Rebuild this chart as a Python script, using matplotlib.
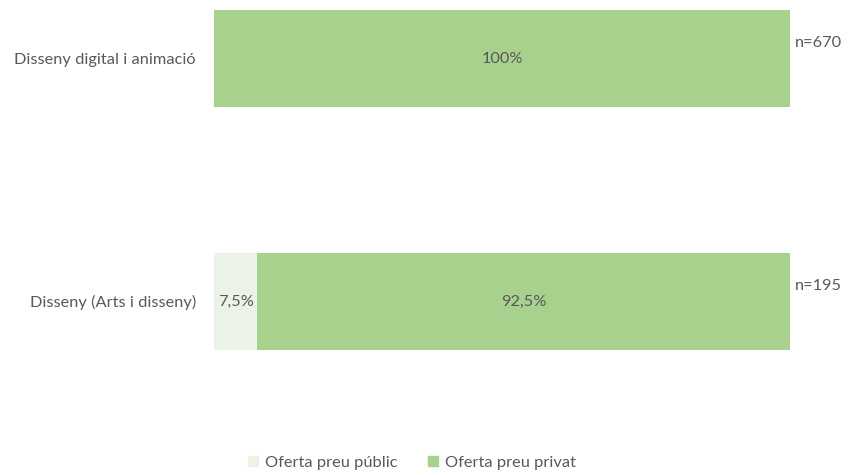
import matplotlib
matplotlib.use("Agg")
import matplotlib.pyplot as plt
from matplotlib.patches import Patch

categories = ["Disseny digital i animació", "Disseny (Arts i disseny)"]
public = [0.0, 7.5]
private = [100.0, 92.5]
n_labels = ["n=670", "n=195"]
series_names = ["Oferta preu públic", "Oferta preu privat"]

plt.rcParams['font.family'] = ['Lato', 'DejaVu Sans']
txt = '#595959'
c_pub = '#EBF3E6'
c_priv = '#A9D18E'
fs = 11.8

fig = plt.figure(figsize=(8.48, 4.75), dpi=100)
ax = fig.add_axes([214/848, (475-350)/475, (790-214)/848, 340/475])
y = list(range(len(categories)))
ax.barh(y, public, height=0.4, color=c_pub)
ax.barh(y, private, left=public, height=0.4, color=c_priv)
ax.set_xlim(0, 100)
ax.set_ylim(1.2, -0.2)
for i in y:
    if public[i] > 0:
        ax.text(public[i]/2, i, f"{public[i]:.1f}%".replace('.', ','), ha='center', va='center', color=txt, fontsize=fs)
    pv = private[i]
    s = f"{pv:.0f}%" if pv == int(pv) else f"{pv:.1f}%".replace('.', ',')
    ax.text(public[i] + pv/2, i, s, ha='center', va='center', color=txt, fontsize=fs)
    ax.text(100.9, i - 0.065, n_labels[i], ha='left', va='center', color=txt, fontsize=fs)
ax.set_yticks(y)
ax.set_yticklabels(categories, color=txt, fontsize=fs)
ax.tick_params(axis='y', length=0, pad=13)
ax.set_xticks([])
for s in ax.spines.values():
    s.set_visible(False)

handles = [Patch(color=c_pub), Patch(color=c_priv)]
fig.legend(handles, series_names, loc='center', bbox_to_anchor=(412/848, 1-463/475), ncol=2,
           frameon=False, fontsize=fs, labelcolor=txt, handlelength=0.6, handleheight=0.6,
           handletextpad=0.4, columnspacing=1.9)
fig.savefig("out.png", dpi=100)
